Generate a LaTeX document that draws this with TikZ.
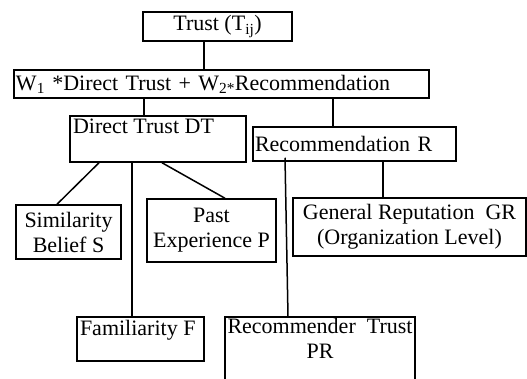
\documentclass[tikz,border=0pt]{standalone}
\usepackage{fontspec}
\setmainfont{Liberation Serif}
\usetikzlibrary{positioning,calc}

\begin{document}
\begin{tikzpicture}[x=1pt,y=-1pt,line width=1.5pt,
    box/.style={draw,inner xsep=2pt,inner ysep=1pt,font=\fontsize{22}{25}\selectfont},
    txt/.style={inner sep=3pt,font=\fontsize{22}{25}\selectfont}]
  \useasboundingbox (0,0) rectangle (527,378);
  \node[box,minimum width=149pt,minimum height=29pt](trust) at (217.5,26.5) {Trust (T\textsubscript{ij})};
  \node[box,minimum width=415pt,minimum height=28pt,text width=411pt,align=left](formula) at (221.5,84) {W\textsubscript{1} *Direct Trust + W\textsubscript{2*}Recommendation};
  \node[box,minimum width=176pt,minimum height=46pt,label={[txt,anchor=north west]north west:Direct Trust DT}](dt) at (158,139) {};
  \node[box,minimum width=203pt,minimum height=34pt,text width=199pt,align=left](rec) at (354.5,144) {Recommendation R};
  \node[box,minimum width=105pt,minimum height=54pt,align=center](sim) at (68.5,232) {Similarity\\Belief S};
  \node[box,minimum width=129pt,minimum height=63pt,align=center](past) at (211.5,230.5) {Past\\Experience P};
  \node[box,minimum width=233pt,minimum height=58pt,align=center](gr) at (409.5,227) {General Reputation~ GR\\(Organization Level)};
  \node[box,minimum width=127pt,minimum height=44pt,label={[txt,anchor=north west]north west:Familiarity F}](fam) at (140.5,339) {};
  \node[box,minimum width=190pt,minimum height=83pt,label={[txt,inner sep=1pt,anchor=north,align=center]north:Recommender~ Trust\\PR}](pr) at (320,358.5) {};
  % links
  \draw ([xshift=-13.5pt]trust.south) -- ([xshift=-13.5pt]trust.south |- formula.north);
  \draw ([xshift=-77.5pt]formula.south) -- ([xshift=-77.5pt]formula.south |- dt.north);
  \draw ([xshift=111.5pt]formula.south) -- ([xshift=111.5pt]formula.south |- rec.north);
  \draw ([xshift=-59pt]dt.south) -- ([xshift=-11.5pt]sim.north);
  \draw ([xshift=-26pt]dt.south) -- ([xshift=-26pt]dt.south |- fam.north);
  \draw ([xshift=4pt]dt.south) -- ([xshift=13.5pt]past.north);
  \draw ([xshift=28.5pt]rec.south) -- ([xshift=28.5pt]rec.south |- gr.north);
  \draw ([xshift=-69.5pt,yshift=4pt]rec.south) -- ([xshift=-32pt]pr.north);
\end{tikzpicture}
\end{document}
